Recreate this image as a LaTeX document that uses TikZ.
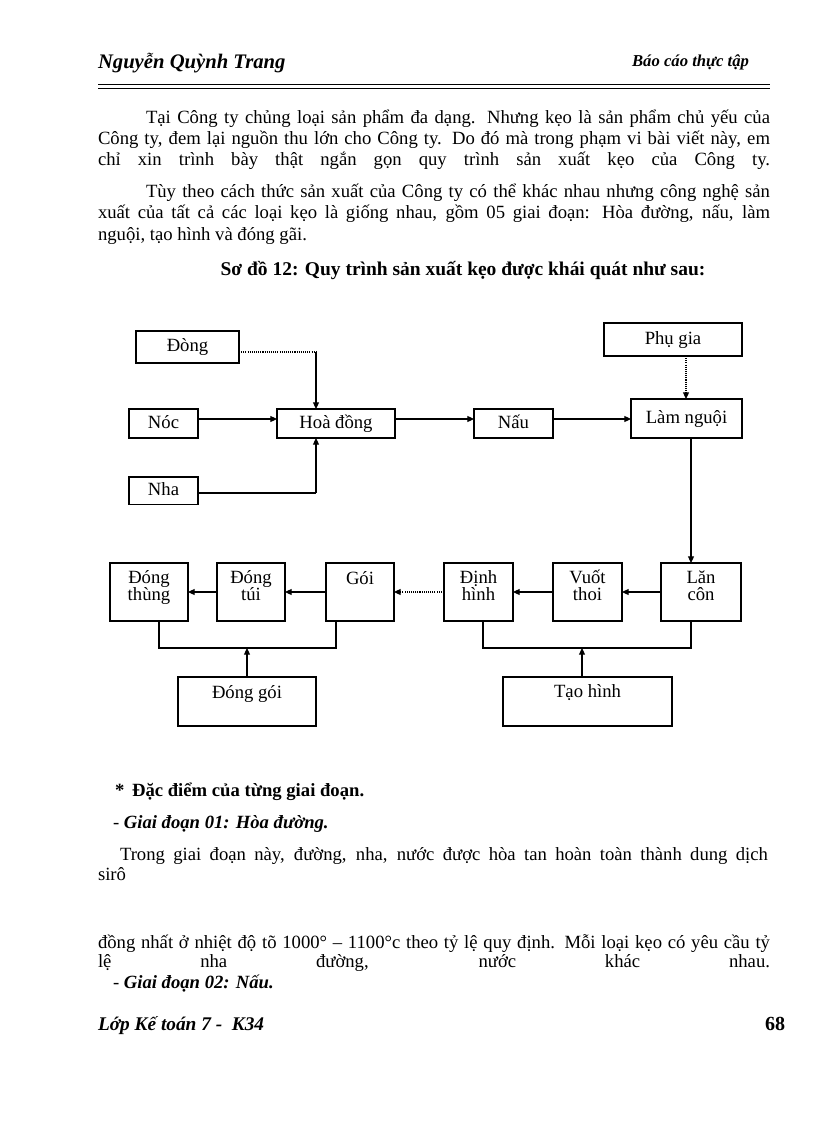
\documentclass[tikz,border=0pt]{standalone}
\usepackage{fontspec}
\setmainfont{Liberation Serif}
\usetikzlibrary{arrows.meta}
\begin{document}
\begin{tikzpicture}[x=0.75pt,y=-0.75pt,
  every node/.style={inner sep=0pt,outer sep=0pt},
  txt/.style={anchor=base west,font=\fontsize{14pt}{16pt}\selectfont},
  box/.style={draw,line width=0.8pt,anchor=north west,align=center,
    font=\fontsize{14pt}{13pt}\selectfont,text height=10pt,text depth=3pt},
  arr/.style={line width=0.8pt,-{Triangle[length=5pt,width=4.5pt]}},
  ln/.style={line width=0.8pt},
  dots/.style={line width=0.8pt,dash pattern=on 0.8pt off 0.8pt}]
\useasboundingbox (0,0) rectangle (816,1123);
\fill[white] (0,0) rectangle (816,1123);

% header
\node[anchor=base west,font=\fontsize{15.5pt}{17pt}\selectfont\bfseries\itshape] (hname) at (98,69) {Nguyễn Quỳnh Trang};
\node[anchor=base east,font=\fontsize{12.5pt}{14pt}\selectfont\bfseries\itshape] (hrep) at (749,67) {Báo cáo thực tập};
\draw[line width=0.75pt] (98,85) -- (770,85);
\draw[line width=0.75pt] (98,88.5) -- (770,88.5);

% paragraphs
\node[txt] (p1a) at (146,124) {\makebox[468pt][s]{Tại Công ty chủng loại sản phẩm đa dạng. Nhưng kẹo là sản phẩm chủ yếu của}};
\node[txt] (p1b) at (98,145) {\makebox[504pt][s]{Công ty, đem lại nguồn thu lớn cho Công ty. Do đó mà trong phạm vi bài viết này, em}};
\node[txt] (p1c) at (98,166) {\makebox[504pt][s]{chỉ xin trình bày thật ngắn gọn quy trình sản xuất kẹo của Công ty.}};
\node[txt] (p2a) at (146,198) {\makebox[468pt][s]{Tùy theo cách thức sản xuất của Công ty có thể khác nhau nhưng công nghệ sản}};
\node[txt] (p2b) at (98,219) {\makebox[504pt][s]{xuất của tất cả các loại kẹo là giống nhau, gồm 05 giai đoạn: Hòa đường, nấu, làm}};
\node[txt] (p2c) at (98,240) {nguội, tạo hình và đóng gãi.};
\node[txt,anchor=base,font=\fontsize{14.6pt}{16pt}\selectfont\bfseries] (cap) at (463,275) {Sơ đồ 12: Quy trình sản xuất kẹo được khái quát như sau:};

% diagram boxes
\node[box,minimum width=77.25pt,minimum height=24pt] (dong) at (136,331) {Đòng};
\node[box,minimum width=51.75pt,minimum height=21.75pt] (noc) at (129,409) {Nóc};
\node[box,minimum width=51.75pt,minimum height=20.5pt] (nha) at (129,477) {Nha};
\node[box,minimum width=88.5pt,minimum height=21.75pt] (hoa) at (277,409) {Hoà đồng};
\node[box,minimum width=59.25pt,minimum height=21.75pt] (nau) at (474,409) {Nấu};
\node[box,minimum width=103.5pt,minimum height=24.75pt] (phugia) at (604,323) {Phụ gia};
\node[box,minimum width=83.25pt,minimum height=29.25pt] (lam) at (631,399) {Làm nguội};

\node[box,minimum width=58.5pt,minimum height=43.5pt,text height=,text depth=10pt] (dthung) at (110,563) {Đóng\\thùng};
\node[box,minimum width=51pt,minimum height=43.5pt,text height=,text depth=10pt] (dtui) at (217,563) {Đóng\\túi};
\node[box,minimum width=51pt,minimum height=43.5pt,text depth=22pt] (goi) at (326,563) {Gói};
\node[box,minimum width=51.75pt,minimum height=43.5pt,text height=,text depth=10pt] (dinh) at (444,563) {Định\\hình};
\node[box,minimum width=51.75pt,minimum height=43.5pt,text height=,text depth=10pt] (vuot) at (553,563) {Vuốt\\thoi};
\node[box,minimum width=60pt,minimum height=43.5pt,text height=,text depth=10pt] (lan) at (661,563) {Lăn\\côn};
\node[box,minimum width=103.5pt,minimum height=36.75pt,text depth=14pt] (dgoi) at (178,677) {Đóng gói};
\node[box,minimum width=126.75pt,minimum height=36.75pt,text depth=15.5pt] (tao) at (503,677) {Tạo hình};

% helper coordinates
\coordinate (r1) at (0,419);
\coordinate (r2) at (0,592);
\coordinate (bar) at (0,648);
\coordinate (c1) at (316,352);
\coordinate (c2) at (316,493);
\coordinate (xP) at (686,0);
\coordinate (xL) at (691,0);
\coordinate (xa) at (159,0);
\coordinate (xb) at (336,0);
\coordinate (xc) at (247,0);
\coordinate (xd) at (483,0);
\coordinate (xf) at (582,0);

% connectors top
\draw[dots] (dong.east |- c1) -- (c1);
\draw[arr] (c1) -- (c1 |- hoa.north);
\draw[arr] (noc.east |- r1) -- (hoa.west |- r1);
\draw[ln] (nha.east |- c2) -- (c2);
\draw[arr] (c2) -- (c2 |- hoa.south);
\draw[arr] (hoa.east |- r1) -- (nau.west |- r1);
\draw[arr] (nau.east |- r1) -- (lam.west |- r1);
\draw[dots,-{Triangle[length=5pt,width=4.5pt]}] (xP |- phugia.south) -- (xP |- lam.north);
\draw[arr] (xL |- lam.south) -- (xL |- lan.north);

% connectors row 2
\draw[arr] (lan.west |- r2) -- (vuot.east |- r2);
\draw[arr] (vuot.west |- r2) -- (dinh.east |- r2);
\draw[dots,-{Triangle[length=5pt,width=4.5pt]}] (dinh.west |- r2) -- (goi.east |- r2);
\draw[arr] (goi.west |- r2) -- (dtui.east |- r2);
\draw[arr] (dtui.west |- r2) -- (dthung.east |- r2);

% brackets
\draw[ln] (xa |- dthung.south) -- (xa |- bar) -- (xb |- bar) -- (xb |- goi.south);
\draw[arr] (xc |- dgoi.north) -- (xc |- bar);
\draw[ln] (xd |- dinh.south) -- (xd |- bar) -- (xL |- bar) -- (xL |- lan.south);
\draw[arr] (xf |- tao.north) -- (xf |- bar);

% lower text
\node[txt,font=\fontsize{14pt}{16pt}\selectfont\bfseries] (star) at (115,796) {*\, Đặc điểm của từng giai đoạn.};
\node[txt] (g1) at (113,828) {- \textbf{\textit{Giai đoạn 01: Hòa đường.}}};
\node[txt] (tr) at (120,860) {\makebox[486pt][s]{Trong giai đoạn này, đường, nha, nước được hòa tan hoàn toàn thành dung dịch}};
\node[txt] (siro) at (98,880) {sirô};
\node[txt] (dn) at (98,948) {\makebox[504pt][s]{đồng nhất ở nhiệt độ tõ 1000° – 1100°c theo tỷ lệ quy định. Mỗi loại kẹo có yêu cầu tỷ}};
\node[txt] (le) at (98,967) {\makebox[504pt][s]{lệ nha đường, nước khác nhau.}};
\node[txt] (g2) at (113,988) {- \textbf{\textit{Giai đoạn 02: Nấu.}}};

% footer
\node[anchor=base west,font=\fontsize{14.5pt}{16pt}\selectfont\bfseries\itshape] (foot) at (98,1030) {Lớp Kế toán 7 -\ \ K34};
\node[anchor=base east,font=\fontsize{15pt}{16pt}\selectfont\bfseries] (pg) at (785,1030) {68};
\end{tikzpicture}
\end{document}
